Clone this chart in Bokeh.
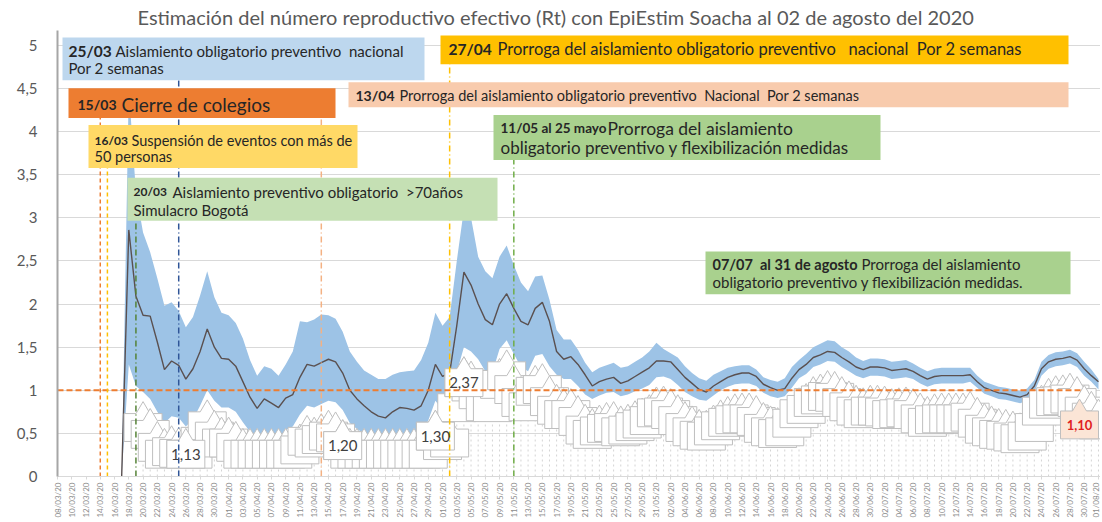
import math
import pandas as pd
from bokeh.plotting import figure
from bokeh.models import (ColumnDataSource, FixedTicker, DatetimeTickFormatter,
                          BoxAnnotation, Label, Range1d)
from bokeh.embed import file_html
from bokeh.resources import INLINE

# ---------------- data ----------------
title_text = "Estimación del número reproductivo efectivo (Rt) con EpiEstim Soacha al 02 de  agosto del 2020"

rt_start = "2020-03-17"
rt_mean = [0.00, 2.86, 2.09, 1.87, 1.86, 1.56, 1.24, 1.34, 1.29, 1.13,
           1.25, 1.45, 1.71, 1.50, 1.37, 1.36, 1.28, 1.10, 0.92, 0.79,
           0.90, 0.85, 0.80, 0.91, 0.95, 1.15, 1.30, 1.28, 1.32, 1.36,
           1.33, 1.20, 1.00, 0.90, 0.82, 0.75, 0.70, 0.68, 0.75, 0.80,
           0.79, 0.77, 0.82, 1.00, 1.30, 1.16, 1.20, 1.75, 2.37, 2.22,
           2.00, 1.82, 1.76, 2.00, 2.12, 1.95, 1.80, 1.76, 1.95, 2.02,
           1.80, 1.45, 1.36, 1.39, 1.30, 1.18, 1.05, 1.10, 1.13, 1.15,
           1.08, 1.11, 1.16, 1.21, 1.26, 1.34, 1.34, 1.33, 1.24, 1.15,
           1.08, 1.01, 0.98, 1.05, 1.10, 1.15, 1.18, 1.20, 1.20, 1.16,
           1.07, 1.03, 1.00, 1.02, 1.14, 1.24, 1.30, 1.38, 1.41, 1.45,
           1.44, 1.38, 1.33, 1.27, 1.24, 1.27, 1.27, 1.26, 1.23, 1.24,
           1.25, 1.22, 1.17, 1.13, 1.16, 1.17, 1.17, 1.17, 1.17, 1.18,
           1.10, 1.03, 1.00, 0.97, 0.96, 0.94, 0.92, 0.95, 1.05, 1.25,
           1.33, 1.36, 1.37, 1.39, 1.35, 1.25, 1.17, 1.10]

rt_upper = [0.00, 4.50, 3.30, 2.83, 2.60, 2.30, 1.98, 2.02, 1.92, 1.73,
            1.85, 2.10, 2.38, 2.08, 1.90, 1.87, 1.78, 1.60, 1.35, 1.17,
            1.28, 1.25, 1.17, 1.30, 1.45, 1.80, 1.79, 1.82, 1.88, 1.87,
            1.83, 1.68, 1.45, 1.33, 1.23, 1.18, 1.13, 1.13, 1.18, 1.21,
            1.22, 1.23, 1.35, 1.55, 1.90, 1.75, 1.85, 2.50, 3.10, 3.00,
            2.55, 2.38, 2.30, 2.55, 2.68, 2.45, 2.25, 2.15, 2.32, 2.33,
            2.05, 1.70, 1.59, 1.59, 1.47, 1.32, 1.21, 1.26, 1.29, 1.32,
            1.26, 1.28, 1.33, 1.38, 1.45, 1.55, 1.48, 1.43, 1.38, 1.28,
            1.20, 1.14, 1.11, 1.18, 1.22, 1.26, 1.28, 1.29, 1.29, 1.24,
            1.15, 1.12, 1.10, 1.14, 1.27, 1.35, 1.42, 1.50, 1.54, 1.58,
            1.57, 1.50, 1.45, 1.38, 1.34, 1.37, 1.37, 1.36, 1.33, 1.34,
            1.35, 1.31, 1.26, 1.22, 1.25, 1.26, 1.26, 1.26, 1.26, 1.26,
            1.17, 1.10, 1.07, 1.04, 1.03, 1.01, 0.99, 1.02, 1.12, 1.33,
            1.41, 1.44, 1.45, 1.47, 1.43, 1.33, 1.24, 1.13]

rt_lower = [0.00, 1.30, 1.05, 0.98, 0.90, 0.75, 0.62, 0.70, 0.68, 0.58,
            0.66, 0.82, 1.00, 0.88, 0.80, 0.80, 0.75, 0.63, 0.52, 0.45,
            0.52, 0.49, 0.45, 0.54, 0.58, 0.72, 0.82, 0.80, 0.84, 0.88,
            0.86, 0.77, 0.62, 0.55, 0.50, 0.45, 0.42, 0.41, 0.46, 0.50,
            0.49, 0.47, 0.52, 0.65, 0.88, 0.77, 0.80, 1.21, 1.50, 1.45,
            1.36, 1.22, 1.21, 1.48, 1.58, 1.42, 1.27, 1.22, 1.40, 1.42,
            1.28, 1.18, 1.13, 1.13, 1.05, 0.95, 0.90, 0.94, 0.97, 0.98,
            0.93, 0.95, 0.99, 1.02, 1.06, 1.15, 1.16, 1.13, 1.06, 0.98,
            0.93, 0.89, 0.88, 0.94, 1.00, 1.04, 1.07, 1.08, 1.08, 1.05,
            0.97, 0.93, 0.91, 0.93, 1.03, 1.14, 1.19, 1.27, 1.30, 1.34,
            1.33, 1.27, 1.22, 1.17, 1.14, 1.17, 1.17, 1.16, 1.13, 1.14,
            1.15, 1.13, 1.08, 1.04, 1.07, 1.08, 1.08, 1.08, 1.08, 1.10,
            1.03, 0.96, 0.93, 0.90, 0.89, 0.87, 0.85, 0.88, 0.98, 1.17,
            1.25, 1.28, 1.29, 1.31, 1.27, 1.17, 1.10, 1.01]

axis_start = "2020-03-08"
axis_end = "2020-08-01"
y_ticks = [0, 0.5, 1, 1.5, 2, 2.5, 3, 3.5, 4, 4.5, 5]
y_tick_labels = ["0", "0,5", "1", "1,5", "2", "2,5", "3", "3,5", "4", "4,5", "5"]
threshold = 1.0

event_dates = ["2020-03-14", "2020-03-15", "2020-03-19", "2020-03-25",
               "2020-04-14", "2020-05-02", "2020-05-11"]

# data labels that remain readable in the original picture
shown_label_dates = ["2020-03-26", "2020-04-17", "2020-04-30", "2020-05-04"]
last_label_date = "2020-08-01"

# ---------------- layout helpers (reference pixel frame) ----------------
DAY_MS = 86400000.0
T0 = pd.Timestamp(axis_start).value / 1e6
PX0, PXD, PY0, PYU = 57.0, 7.13, 478.0, 86.6
NB = "\u00a0"


def xd(px):
    return T0 + (px - PX0) / PXD * DAY_MS


def yv(py):
    return (PY0 - py) / PYU


def ms(d):
    return pd.Timestamp(d).value / 1e6


def fmt_val(v):
    return f"{v:.2f}".replace(".", ",")


dates = pd.date_range(rt_start, periods=len(rt_mean), freq="D")
src = ColumnDataSource(dict(date=dates, mean=rt_mean, lo=rt_lower, hi=rt_upper))

p = figure(width=1100, height=520, x_axis_type="datetime",
           output_backend="svg", toolbar_location=None,
           x_range=Range1d(xd(57), xd(1100)), y_range=Range1d(0, yv(30)),
           min_border_left=57, min_border_right=0, min_border_top=30,
           min_border_bottom=42, background_fill_color="white",
           border_fill_color="white", outline_line_color=None)

p.title.text = title_text
p.title.align = "left"
p.title.text_font = "Lato"
p.title.text_font_size = "20px"
p.title.text_font_style = "normal"
p.title.text_color = "#595959"
p.title.standoff = 4
p.title.offset = 80

# axes
tick_dates = pd.date_range(axis_start, axis_end, freq="2D")
p.xaxis.ticker = FixedTicker(ticks=[t.value / 1e6 for t in tick_dates])
fmt = "%d/%m/%y"
p.xaxis.formatter = DatetimeTickFormatter(days=fmt, months=fmt, years=fmt,
                                          hours=fmt, minutes=fmt, seconds=fmt,
                                          milliseconds=fmt, microseconds=fmt,
                                          hourmin=fmt, minsec=fmt)
p.xaxis.major_label_orientation = math.pi / 2
p.xaxis.major_label_text_font = "Lato"
p.xaxis.major_label_text_font_size = "8px"
p.xaxis.major_label_text_color = "#8c8c8c"
p.xaxis.major_label_standoff = 3
p.xaxis.axis_line_color = "#d9d9d9"
p.xaxis.major_tick_line_color = "#d9d9d9"
p.xaxis.major_tick_in = 0
p.xaxis.major_tick_out = 3
p.xaxis.minor_tick_line_color = None

p.yaxis.ticker = FixedTicker(ticks=y_ticks)
p.yaxis.major_label_overrides = {t: l for t, l in zip(y_ticks, y_tick_labels)}
p.yaxis.major_label_text_font = "Lato"
p.yaxis.major_label_text_font_size = "15px"
p.yaxis.major_label_text_color = "#595959"
p.yaxis.major_label_standoff = 14
p.yaxis.axis_line_color = "#a6a6a6"
p.yaxis.axis_line_width = 2
p.yaxis.major_tick_line_color = None
p.yaxis.minor_tick_line_color = None

p.xgrid.grid_line_color = None
p.ygrid.ticker = FixedTicker(ticks=y_ticks)
p.ygrid.grid_line_color = "#d9d9d9"

# band + mean
p.varea(x="date", y1="lo", y2="hi", source=src, fill_color="#9dc3e6", fill_alpha=1.0)
p.line(x="date", y="mean", source=src, line_color="#5a5050", line_width=1.4)

# ---- cluttered data-label callouts (drawn below the band) ----
HW = 19 / PXD * DAY_MS      # half width of callout box
AW = 7 / PXD * DAY_MS       # half width of arrow head
AH = 12 / PYU               # arrow height
BH = 28 / PYU               # box height
DROP, FLOOR = 0.25, 0.42


def callout(cx, top):
    bot = top - BH
    return ([cx - HW, cx + HW, cx + HW, cx + AW, cx, cx - AW, cx - HW],
            [bot, bot, top, top, top + AH, top, top], bot)


co_x, co_bot, xs, ys = [], [], [], []
for k in range(3, len(rt_mean)):
    cx = dates[k].value / 1e6
    top = max(rt_lower[k] - DROP, FLOOR)
    px, py, bot = callout(cx, top)
    co_x.append(cx); co_bot.append(bot); xs.append(px); ys.append(py)
p.segment(x0=co_x, x1=co_x, y0=[0] * len(co_x), y1=co_bot,
          line_color="#d4d4d4", line_width=1, line_dash="2 3")
p.patches(xs=xs, ys=ys, fill_color="white", line_color="#bfbfbf", line_width=1)

# readable labels on top
lab_xs, lab_ys, lab_tx, lab_ty, lab_txt = [], [], [], [], []
all_lab = shown_label_dates + [last_label_date]
for j, d in enumerate(all_lab):
    k = list(dates).index(pd.Timestamp(d))
    cx = dates[k].value / 1e6
    if j == len(all_lab) - 1:
        cx = min(cx, xd(1100) - HW - 2 / PXD * DAY_MS)
    top = max(rt_lower[k] - DROP, FLOOR)
    px, py, bot = callout(cx, top)
    lab_xs.append(px); lab_ys.append(py)
    lab_tx.append(cx); lab_ty.append((top + bot) / 2); lab_txt.append(fmt_val(rt_mean[k]))
fills = ["white"] * len(shown_label_dates) + ["#fbe5d6"]
p.patches(xs=lab_xs, ys=lab_ys, fill_color=fills, line_color="#bfbfbf", line_width=1)
tcols = ["#404040"] * len(shown_label_dates) + ["#e02020"]
tstyles = ["normal"] * len(shown_label_dates) + ["bold"]
tsizes = ["15px"] * len(shown_label_dates) + ["13px"]
for x, y, t, c, s, z in zip(lab_tx, lab_ty, lab_txt, tcols, tstyles, tsizes):
    p.add_layout(Label(x=x, y=y, text=t, text_font="Lato", text_font_size=z,
                       text_font_style=s, text_color=c, text_align="center",
                       text_baseline="middle"))

# threshold line
p.segment(x0=[xd(57)], x1=[xd(1082)], y0=[threshold], y1=[threshold],
          line_color="#ed7d31", line_width=2, line_dash="6 3")

# event lines
ev_x = [ms(d) for d in event_dates]
ev_top = [yv(118), yv(168), yv(221), yv(80), yv(107), yv(64), yv(160)]
ev_col = ["#ed7d31", "#ffc000", "#548235", "#2f5597", "#f4b183", "#ffc000", "#70ad47"]
ev_dash = ["4 3", "4 3", "6 3 1 3", "6 3 1 3", "6 3 1 3", "6 3 1 3", "6 3 1 3"]
for x, t, c, d in zip(ev_x, ev_top, ev_col, ev_dash):
    p.segment(x0=[x], x1=[x], y0=[0], y1=[t], line_color=c, line_width=1.5, line_dash=d)

# annotation boxes (reference pixel positions)
boxes = [
    (62, 424, 37, 80, "#bdd7ee"),
    (68, 335, 88, 118, "#ed7d31"),
    (88, 357, 125, 168, "#ffd966"),
    (127, 497, 178, 221, "#c5e0b4"),
    (440, 1068, 35, 64, "#ffc000"),
    (348, 1068, 82, 107, "#f8cbad"),
    (493, 880, 115, 160, "#a9d18e"),
    (705, 1070, 252, 295, "#a9d18e"),
]
for l, r, t, b, c in boxes:
    p.add_layout(BoxAnnotation(left=xd(l), right=xd(r), top=yv(t), bottom=yv(b),
                               fill_color=c, fill_alpha=1.0, line_color=None))

texts = [
    (68, 51, "25/03", "bold", 15.5),
    (115, 51, "Aislamiento obligatorio preventivo" + NB + " nacional", "normal", 15),
    (68, 68, "Por 2 semanas", "normal", 15),
    (77, 104, "15/03", "bold", 14),
    (121, 104, "Cierre de colegios", "normal", 19),
    (94, 140, "16/03", "bold", 12),
    (131, 140, "Suspensión de eventos con más de", "normal", 14.5),
    (94, 157, "50 personas", "normal", 14.5),
    (133, 192, "20/03", "bold", 12),
    (172, 192, "Aislamiento preventivo obligatorio" + NB + " >70años", "normal", 15),
    (133, 210, "Simulacro Bogotá", "normal", 15),
    (448, 49, "27/04", "bold", 15.5),
    (497, 49, "Prorroga del aislamiento obligatorio preventivo" + NB + NB + " nacional" + NB + " Por 2 semanas", "normal", 16.5),
    (355, 95, "13/04", "bold", 14),
    (399, 95, "Prorroga del aislamiento obligatorio preventivo" + NB + " Nacional" + NB + " Por 2 semanas", "normal", 14.5),
    (500, 128, "11/05 al 25 mayo", "bold", 13.5),
    (607, 128, "Prorroga del aislamiento", "normal", 17.5),
    (500, 148, "obligatorio preventivo y flexibilización medidas", "normal", 17),
    (712, 265, "07/07" + NB + " al 31 de agosto", "bold", 14.5),
    (861, 265, "Prorroga del aislamiento", "normal", 15),
    (712, 283, "obligatorio preventivo y flexibilización medidas.", "normal", 15),
]
for x, y, s, st, fs in texts:
    p.add_layout(Label(x=xd(x), y=yv(y), text=s, text_font="Lato",
                       text_font_style=st, text_font_size=f"{fs}px",
                       text_color="#262626", text_baseline="middle", text_align="left"))

open("out.html", "w").write(file_html(p, INLINE))
